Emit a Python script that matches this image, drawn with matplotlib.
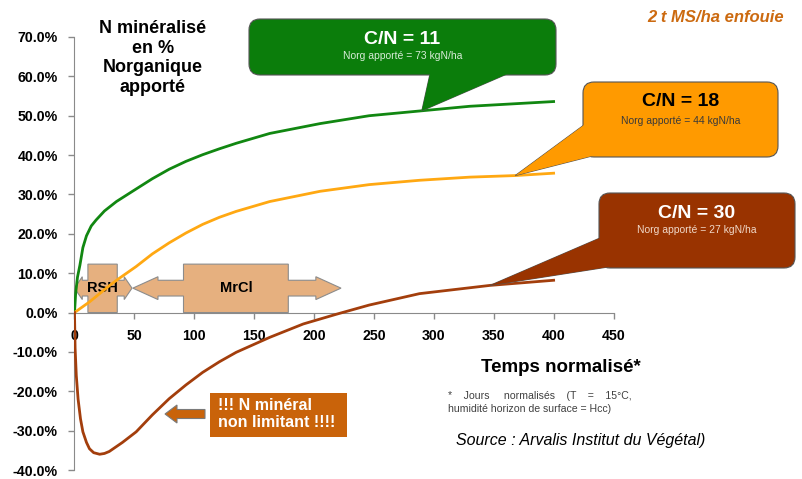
import numpy as np
import matplotlib
matplotlib.use("Agg")
import matplotlib.pyplot as plt
from matplotlib.patches import Polygon, FancyBboxPatch
from matplotlib.transforms import IdentityTransform

plt.rcParams['font.family'] = ['Liberation Sans', 'DejaVu Sans']

# courbes (temps normalisé, % N organique apporté)
x_cn11 = [0, 1, 2.5, 4.5, 7, 10, 14, 18, 25, 35, 51, 65, 79, 93, 107, 121, 135, 163, 205, 246, 288, 330, 365, 400]
y_cn11 = [0, 5, 9, 12, 16.5, 19.5, 22, 23.5, 25.8, 28.2, 31.3, 34, 36.4, 38.4, 40.1, 41.6, 43, 45.5, 48, 50, 51.2, 52.4, 53, 53.6]

x_cn18 = [0, 12.5, 29, 36, 51.5, 65, 79, 93, 107, 121, 135, 163, 205, 246, 288, 330, 368, 400]
y_cn18 = [0, 2.7, 6.8, 8.4, 11.7, 14.9, 17.7, 20.2, 22.4, 24.2, 25.7, 28.2, 30.8, 32.5, 33.6, 34.4, 34.8, 35.4]

x_cn30 = [0, 0.5, 1.5, 3, 5, 7, 10, 12.5, 16, 21, 25, 29, 40, 51.5, 65, 79, 93, 107, 121, 135, 163, 191, 219, 246, 288, 347, 400]
y_cn30 = [0, -9, -16, -22, -27, -30.3, -33, -34.6, -35.6, -36, -35.8, -35.3, -33, -30.3, -26, -21.9, -18.4, -15.2, -12.5, -10.1, -6.3, -2.9, -0.4, 1.9, 4.8, 6.9, 8.2]

xticks = [0, 50, 100, 150, 200, 250, 300, 350, 400, 450]
yticks = [-40, -30, -20, -10, 0, 10, 20, 30, 40, 50, 60, 70]

callouts = [
    ("C/N = 11", "Norg apporté = 73 kgN/ha"),
    ("C/N = 18", "Norg apporté = 44 kgN/ha"),
    ("C/N = 30", "Norg apporté = 27 kgN/ha"),
]

c_green = '#118711'
c_orange = '#FFA812'
c_brown = '#A33E0C'

W, H = 803, 479
fig = plt.figure(figsize=(W / 100, H / 100), dpi=100)
ax = fig.add_axes([74.5 / W, 9 / H, 539 / W, 433 / H])
ax.set_xlim(0, 450)
ax.set_ylim(-40, 70)

ax.plot(x_cn11, y_cn11, color=c_green, lw=2, zorder=4)
ax.plot(x_cn18, y_cn18, color=c_orange, lw=2, zorder=4)
ax.plot(x_cn30, y_cn30, color=c_brown, lw=2, zorder=4)

for s in ['top', 'right']:
    ax.spines[s].set_visible(False)
ax.spines['bottom'].set_position(('data', 0))
ax.spines['left'].set_position(('data', 0))
for s in ['bottom', 'left']:
    ax.spines[s].set_color('#8a8a8a')
ax.set_xticks(xticks)
ax.set_yticks(yticks)
ax.set_yticklabels([f"{v:.1f}%" for v in yticks])
ax.tick_params(colors='#8a8a8a', labelcolor='black', length=4, width=1)
ax.tick_params(axis='x', pad=8)
ax.tick_params(axis='y', pad=8)
for lab in ax.get_xticklabels() + ax.get_yticklabels():
    lab.set_fontweight('bold')
    lab.set_fontsize(10.2)


# double flèches RSH / MrCl
def double_arrow(left, right, bx0, bx1, hl, top=12.3, yc=6.2, hh=2.9, bh=2.0):
    pts = [(left, yc), (left + hl, yc + hh), (left + hl, yc + bh), (bx0, yc + bh), (bx0, top),
           (bx1, top), (bx1, yc + bh), (right - hl, yc + bh), (right - hl, yc + hh), (right, yc),
           (right - hl, yc - hh), (right - hl, yc - bh), (bx1, yc - bh), (bx1, 0), (bx0, 0),
           (bx0, yc - bh), (left + hl, yc - bh), (left + hl, yc - hh)]
    ax.add_patch(Polygon(pts, closed=True, fc='#E6B07F', ec='#8c8c8c', lw=0.8, zorder=2))

double_arrow(0, 48, 11.2, 35.7, 6.5)
double_arrow(48.7, 222.5, 91, 178.5, 21)
ax.text(23.5, 6.2, "RSH", fontsize=10.5, fontweight='bold', ha='center', va='center', zorder=3)
ax.text(135, 6.2, "MrCl", fontsize=10.5, fontweight='bold', ha='center', va='center', zorder=3)

fig.canvas.draw()
pix = IdentityTransform()


def P(px, py):
    return (px, H - py)


def bulle(x0, y0, x1, y1, base, tip, fc, title, sub, tcol, scol, dsub):
    tri = [P(*base[0]), P(*base[1]), tuple(tip)]
    fig.patches.append(Polygon(tri, closed=True, fc=fc, ec='#555555', lw=0.8, transform=pix, zorder=5))
    box = FancyBboxPatch(P(x0, y1), x1 - x0, y1 - y0, boxstyle="round,pad=0,rounding_size=11",
                         fc=fc, ec='#555555', lw=0.8, transform=pix, zorder=6)
    fig.patches.append(box)
    fig.patches.append(Polygon(tri, closed=True, fc=fc, ec='none', transform=pix, zorder=7))
    cx = (x0 + x1) / 2
    fig.text(cx / W, 1 - (y0 + 20) / H, title, fontsize=14, fontweight='bold', color=tcol,
             ha='center', va='center', zorder=8)
    fig.text(cx / W, 1 - (y0 + dsub) / H, sub, fontsize=7.5, color=scol, ha='center', va='center', zorder=8)


tip11 = ax.transData.transform((290, np.interp(290, x_cn11, y_cn11)))
tip18 = ax.transData.transform((368, np.interp(368, x_cn18, y_cn18)))
tip30 = ax.transData.transform((347, np.interp(347, x_cn30, y_cn30)))

bulle(249, 19, 556, 75, [(430, 74), (507, 74)], tip11, '#0B7D0B',
      callouts[0][0], callouts[0][1], 'white', '#d8ecd8', 37)
bulle(583, 82, 778, 157, [(584, 125), (592, 156)], tip18, '#FF9A00',
      callouts[1][0], callouts[1][1], 'black', '#3a3a3a', 39)
bulle(599, 193, 795, 268, [(600, 238), (608, 267)], tip30, '#993300',
      callouts[2][0], callouts[2][1], 'white', '#f0d8c8', 37)

# titre, légendes
fig.text(153 / W, 1 - 58 / H, "N minéralisé\nen %\nNorganique\napporté", fontsize=13,
         fontweight='bold', ha='center', va='center', linespacing=1.22)
fig.text(716 / W, 1 - 18 / H, "2 t MS/ha enfouie", fontsize=12, fontweight='bold',
         style='italic', color='#CC6A10', ha='center', va='center')
fig.text(561 / W, 1 - 367 / H, "Temps normalisé*", fontsize=13.5, fontweight='bold',
         ha='center', va='center')
fig.text(448 / W, 1 - 396 / H, "*    Jours     normalisés    (T    =    15°C,", fontsize=7.6,
         color='#404040', ha='left', va='center')
fig.text(448 / W, 1 - 409 / H, "humidité horizon de surface = Hcc)", fontsize=7.6,
         color='#404040', ha='left', va='center')
fig.text(456 / W, 1 - 441 / H, "Source : Arvalis Institut du Végétal)", fontsize=11.5,
         style='italic', ha='left', va='center')

# encadré N minéral non limitant
fig.patches.append(FancyBboxPatch(P(210, 437), 137, 44, boxstyle="square,pad=0",
                                  fc='#C9630A', ec='none', transform=pix, zorder=5))
fig.text(218 / W, 1 - 414 / H, "!!! N minéral\nnon limitant !!!!", fontsize=11.5, fontweight='bold',
         color='white', ha='left', va='center', linespacing=1.2, zorder=6)
fl = [P(165, 414), P(177, 405), P(177, 409.5), P(205, 409.5), P(205, 418.5), P(177, 418.5), P(177, 423)]
fig.patches.append(Polygon(fl, closed=True, fc='#C9630A', ec='#7a7a7a', lw=0.8, transform=pix, zorder=5))

fig.savefig("out.png", dpi=100)
